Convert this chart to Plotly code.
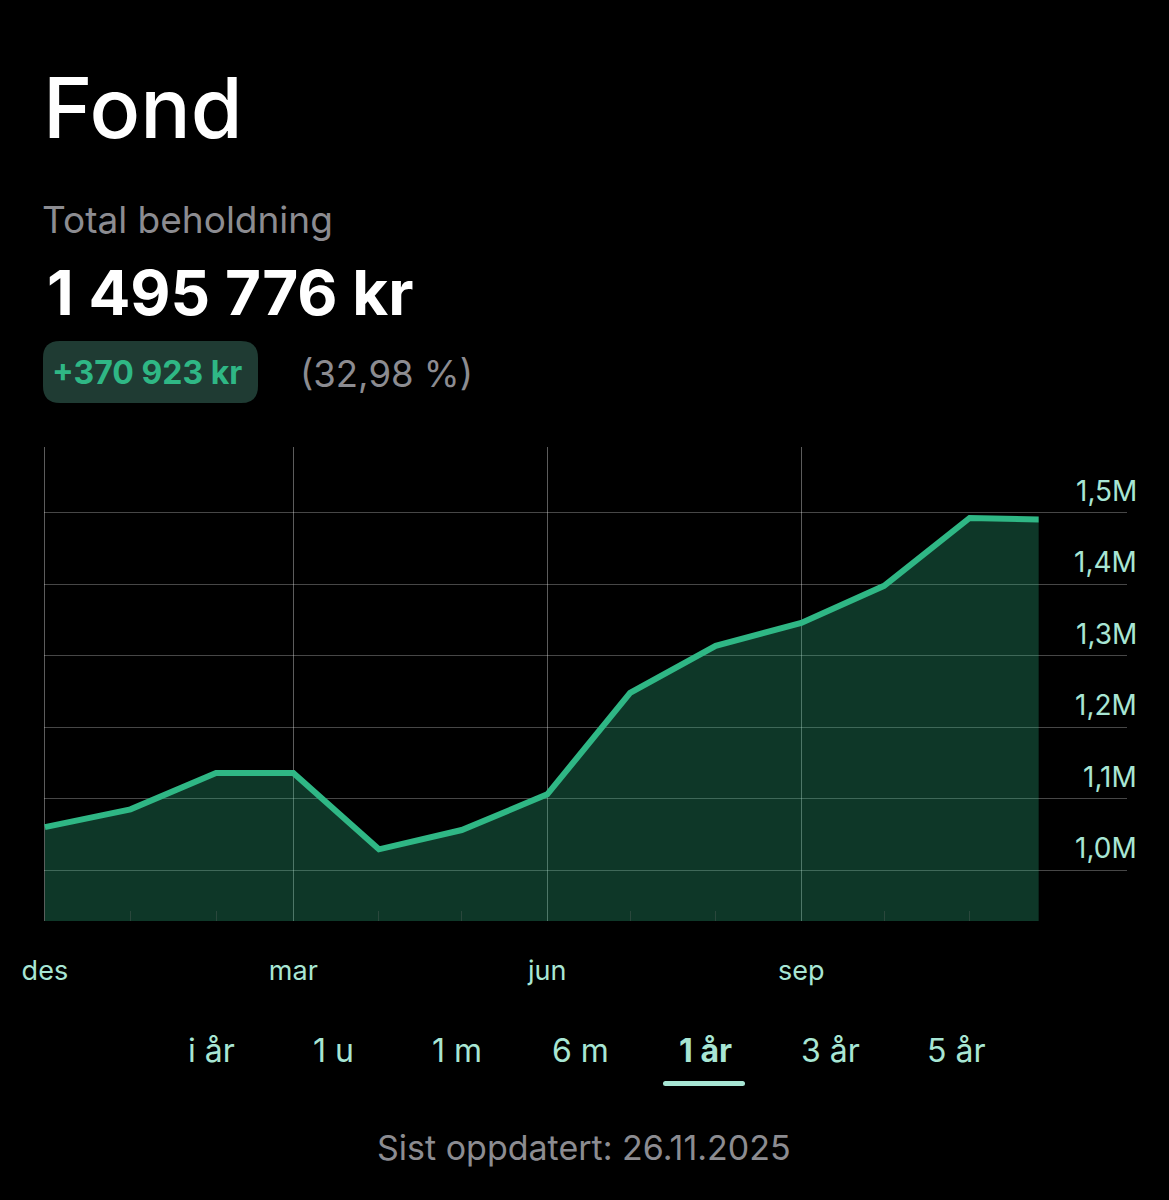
"""Fond holdings card: one year of portfolio value, area chart on black."""
import plotly.graph_objects as go

W, H = 1169, 1200

dates = ["2024-12-01", "2025-01-01", "2025-02-01", "2025-03-01", "2025-04-01", "2025-05-01",
         "2025-06-01", "2025-07-01", "2025-08-01", "2025-09-01", "2025-10-01", "2025-11-01",
         "2025-11-26"]
values = [1.060, 1.085, 1.136, 1.136, 1.029, 1.056, 1.106, 1.248, 1.314, 1.346, 1.398, 1.493, 1.491]

month_ticks = ["2024-12-01", "2025-03-01", "2025-06-01", "2025-09-01"]
month_labels = ["des", "mar", "jun", "sep"]
minor_ticks = ["2025-01-01", "2025-02-01", "2025-04-01", "2025-05-01", "2025-07-01", "2025-08-01",
               "2025-10-01", "2025-11-01"]
y_ticks = [1.0, 1.1, 1.2, 1.3, 1.4, 1.5]
y_labels = ["1,0M", "1,1M", "1,2M", "1,3M", "1,4M", "1,5M"]
periods = ["i år", "1 u", "1 m", "6 m", "1 år", "3 år", "5 år"]
period_x = [211, 333, 457, 580, 705, 830, 956]

GREEN = "#2fb785"
MINT = "#a8e6d4"
GREY = "#8c8c91"
FONT = "Inter"


def px(x):
    return x / W


def py(y):
    return 1 - y / H


def rounded(x0, y0, x1, y1, r):
    # rounded rectangle as an svg path in paper coords
    rx, ry = r / W, r / H
    a, b, c, d = px(x0), py(y0), px(x1), py(y1)
    return (f"M {a + rx} {b} L {c - rx} {b} Q {c} {b} {c} {b - ry} L {c} {d + ry} Q {c} {d} {c - rx} {d} "
            f"L {a + rx} {d} Q {a} {d} {a} {d + ry} L {a} {b - ry} Q {a} {b} {a + rx} {b} Z")


def label(text, x, y, size, color, weight=400, anchor="left"):
    return dict(text=text, x=px(x), y=py(y), xref="paper", yref="paper", xanchor=anchor, yanchor="middle",
                showarrow=False, align=anchor, font=dict(family=FONT, size=size, color=color, weight=weight))


fig = go.Figure()
fig.add_trace(go.Scatter(
    x=dates, y=values, mode="lines", fill="tozeroy",
    line=dict(color=GREEN, width=6, shape="linear"),
    fillcolor="rgba(47,183,133,0.30)",
    hoverinfo="skip", showlegend=False,
))

annotations = [
    label("Fond", 41, 108, 84, "#ffffff", 500),
    label("Total beholdning", 40, 219, 37, GREY),
    label("1 495 776 kr", 44.5, 292, 62, "#ffffff", 700),
    label("+370 923 kr", 50, 373, 32, GREEN, 700),
    label("(32,98 %)", 298, 374, 36.5, GREY),
    label("Sist oppdatert: 26.11.2025", 584, 1147, 34, GREY, 400, "center"),
]
for p, x in zip(periods, period_x):
    annotations.append(label(p, x, 1050, 32, MINT, 700 if p == "1 år" else 400, "center"))
# y labels sit above their gridlines, so they are shifted annotations rather than tick labels
for v, t in zip(y_ticks, y_labels):
    annotations.append(dict(text=t, x=px(1139), xref="paper", y=v, yref="y", xanchor="right", yanchor="middle",
                            yshift=22, showarrow=False, font=dict(family=FONT, size=28, color=MINT)))

fig.update_layout(
    width=W, height=H,
    margin=dict(l=0, r=0, t=0, b=0),
    paper_bgcolor="#000000", plot_bgcolor="#000000",
    annotations=annotations,
    shapes=[
        dict(type="path", path=rounded(43, 341, 258, 403, 17), xref="paper", yref="paper",
             fillcolor="#1f3b33", line=dict(width=0), layer="below"),
        dict(type="path", path=rounded(663, 1081, 745, 1086, 2.5), xref="paper", yref="paper",
             fillcolor=MINT, line=dict(width=0)),
    ],
)
# range starts half a day early, plotly drops a gridline sitting exactly on the edge
fig.update_xaxes(
    type="date", automargin=False, domain=[px(43.5), px(1127)], range=["2024-11-30 12:00", "2025-12-28"],
    tickmode="array", tickvals=month_ticks, ticktext=month_labels,
    showgrid=True, gridcolor="rgba(255,255,255,0.36)", gridwidth=1.4,
    ticks="outside", ticklen=26, tickcolor="rgba(0,0,0,0)",
    tickfont=dict(family=FONT, size=27, color=MINT),
    minor=dict(tickmode="array", tickvals=minor_ticks, ticks="inside", ticklen=10,
               tickcolor="rgba(50,75,65,0.8)", tickwidth=1, showgrid=False),
    showline=False, zeroline=False,
)
fig.update_yaxes(
    automargin=False, domain=[py(921), py(447)], range=[0.9286, 1.5924],
    tickmode="array", tickvals=y_ticks, showticklabels=False, side="right",
    showgrid=True, gridcolor="rgba(255,255,255,0.28)", gridwidth=1.4,
    showline=False, zeroline=False,
)

fig.write_html("out.html", config={"displayModeBar": False},
               post_script="document.body.style.margin='0';document.body.style.background='#000';")
